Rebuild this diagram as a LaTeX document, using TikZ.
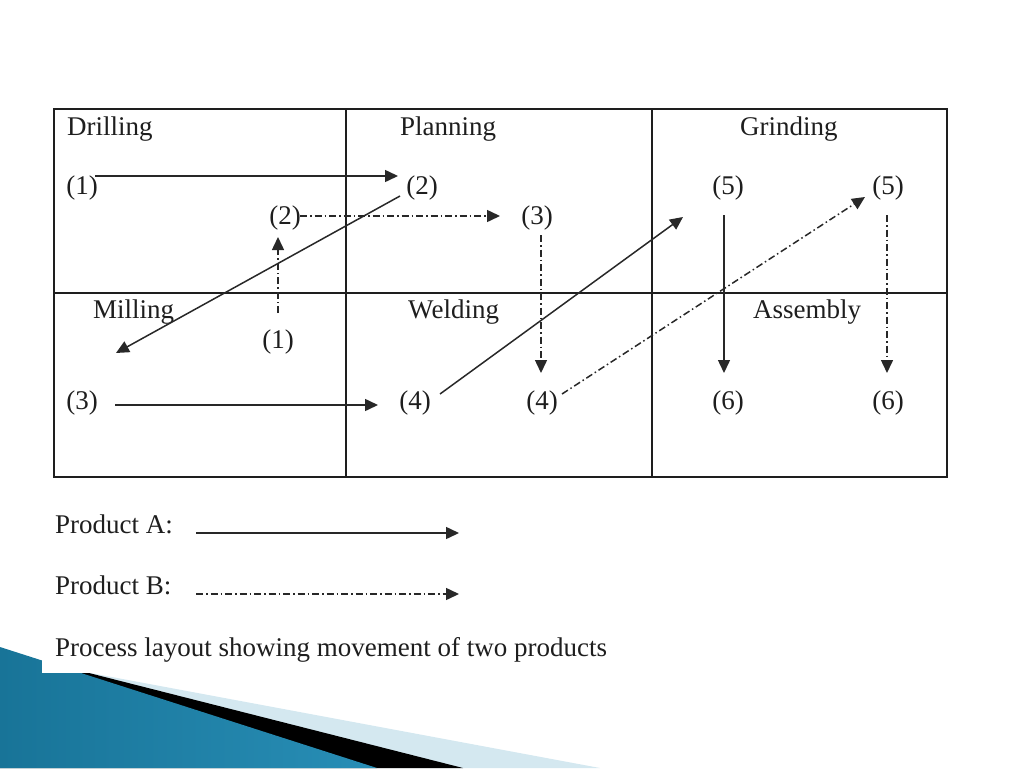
\documentclass[tikz,border=0pt]{standalone}
\usepackage{fontspec}
\setmainfont{Liberation Serif}
\usetikzlibrary{arrows.meta,calc}
\definecolor{ink}{RGB}{30,30,30}
\definecolor{lineink}{RGB}{40,40,40}
\definecolor{tealdark}{RGB}{24,116,152}
\definecolor{tealmid}{RGB}{92,190,228}
\definecolor{tealright}{RGB}{40,142,182}
\definecolor{paleblue}{RGB}{212,232,240}
\begin{document}
\begin{tikzpicture}[x=1pt,y=-1pt,
  lbl/.style={font=\fontsize{27}{31}\selectfont, text=ink, inner sep=0pt},
  area/.style={lbl, anchor=base west},
  num/.style={lbl, anchor=center},
  pa/.style={draw=lineink, line width=1.5pt, -{Triangle[length=13pt,width=12pt]}},
  pb/.style={pa, dash pattern=on 7pt off 3pt on 1.5pt off 3pt},
  gridline/.style={draw=ink, line width=1.5pt}]
\useasboundingbox (0,0) rectangle (1024,768);
% slide decoration
\fill[paleblue] (85,672) -- (600,768) -- (0,768) -- (0,672) -- cycle;
\fill[black] (85,672) -- (463,768) -- (0,768) -- (0,672) -- cycle;
\shade[left color=tealdark, middle color=tealmid, right color=tealright] (0,647) -- (377,768) -- (0,768) -- cycle;
\fill[white] (42,630) rectangle (700,673);
% grid
\draw[gridline] (54,109) rectangle (947,477);
\draw[gridline] (54,293) -- (947,293);
\draw[gridline] (346,109) -- (346,477);
\draw[gridline] (652,109) -- (652,477);
% department names
\node[area] (tdr) at (67,135) {Drilling};
\node[area] (tpl) at (400,135) {Planning};
\node[area] (tgr) at (740,135) {Grinding};
\node[area] (tmi) at (93,318) {Milling};
\node[area] (twe) at (408,318) {Welding};
\node[area] (tas) at (753,318) {Assembly};
% operation numbers
\node[num] (d1) at (82,188) {(1)};
\node[num] (d2) at (285,218) {(2)};
\node[num] (p2) at (422,188) {(2)};
\node[num] (p3) at (537,218) {(3)};
\node[num] (g5a) at (728,188) {(5)};
\node[num] (g5b) at (888,188) {(5)};
\node[num] (m1) at (278,342) {(1)};
\node[num] (m3) at (82,403) {(3)};
\node[num] (w4a) at (415,403) {(4)};
\node[num] (w4b) at (542,403) {(4)};
\node[num] (s6a) at (728,403) {(6)};
\node[num] (s6b) at (888,403) {(6)};
\coordinate (mtip) at (116,353);
% product A
\draw[pa] ($(d1)+(13,-12)$) -- ($(p2)+(-24,-12)$);
\draw[pa] ($(p2)+(-22,8)$) -- (mtip);
\draw[pa] ($(m3)+(33,2)$) -- ($(w4a)+(-37,2)$);
\draw[pa] ($(w4a)+(25,-9)$) -- ($(g5a)+(-45,29)$);
\draw[pa] ($(g5a)+(-4,27)$) -- ($(s6a)+(-4,-30)$);
% product B
\draw[pb] ($(m1)+(0,-29)$) -- ($(d2)+(-7,19)$);
\draw[pb] ($(d2)+(15,-2)$) -- ($(p3)+(-37,-2)$);
\draw[pb] ($(p3)+(4,17)$) -- ($(w4b)+(-1,-30)$);
\draw[pb] ($(w4b)+(20,-9)$) -- ($(g5b)+(-23,9)$);
\draw[pb] ($(g5b)+(-1,27)$) -- ($(s6b)+(-1,-30)$);
% legend
\node[area] (la) at (55,533) {Product A:};
\node[area] (lb) at (55,594) {Product B:};
\coordinate (laS) at (196,533);
\coordinate (laE) at (459,533);
\coordinate (lbS) at (196,594);
\coordinate (lbE) at (459,594);
\draw[pa] (laS) -- (laE);
\draw[pb] (lbS) -- (lbE);
\node[area] (cap) at (55,656) {Process layout showing movement of two products};
\end{tikzpicture}
\end{document}
